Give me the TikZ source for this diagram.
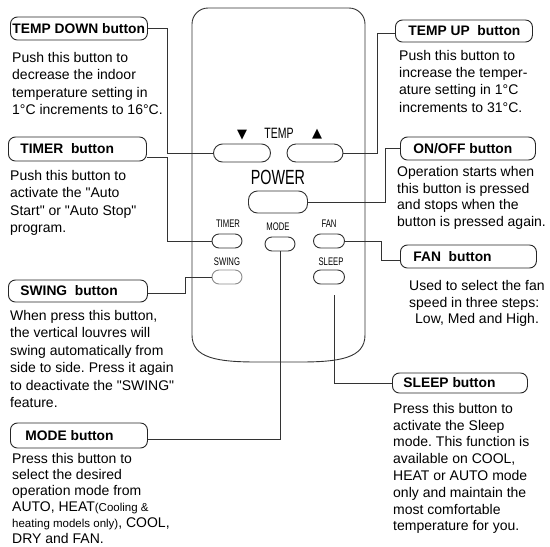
\documentclass[tikz,border=0pt]{standalone}
\usepackage{fontspec}
\setmainfont{Liberation Sans}
\newfontfamily\narrowfont[FakeStretch=0.7]{Liberation Sans}
\newfontfamily\symfont{DejaVu Sans}
\newcommand{\dq}{\textquotedbl}
\begin{document}
\frenchspacing
\begin{tikzpicture}[x=1pt,y=-1pt]
\tikzset{
 ln/.style={draw=black!80, line width=0.9pt},
 lbox/.style={draw=black!85, line width=0.9pt, rounded corners=7pt, inner sep=0pt, anchor=west, font=\fontsize{13.8}{16}\selectfont\bfseries},
 body/.style={anchor=north west, inner sep=0pt, align=left, font=\fontsize{14}{17.5}\selectfont},
 btn/.style={draw=black!80, line width=0.9pt, rectangle, inner sep=0pt},
 rlab/.style={inner sep=0pt, font=\narrowfont\fontsize{11}{12}\selectfont},
}
\useasboundingbox (0,0) rectangle (550,547);
\fill[white] (0,0) rectangle (550,547);
% remote body
\draw[ln] (192,335) -- (192,24) .. controls (192,15.2) and (199.2,8) .. (208,8) -- (349,8)
  .. controls (357.8,8) and (365,15.2) .. (365,24) -- (365,335)
  .. controls (365,358) and (340,362) .. (300,362) -- (257,362)
  .. controls (217,362) and (192,358) .. (192,335) -- cycle;
% remote labels
\node[inner sep=0pt, font=\symfont\fontsize{13}{14}\selectfont] (dnarrow) at (242,135) {▼};
\node[inner sep=0pt, font=\narrowfont\fontsize{15}{16}\selectfont] (templab) at (279,133) {TEMP};
\node[inner sep=0pt, font=\symfont\fontsize{13}{14}\selectfont] (uparrow) at (317,134) {▲};
\node[inner sep=0pt, font=\narrowfont\fontsize{20.5}{22}\selectfont] (powlab) at (278,177) {POWER};
\node[rlab] (timerlab) at (228,224) {TIMER};
\node[rlab] (modelab) at (278,227) {MODE};
\node[rlab] (fanlab) at (329,224) {FAN};
\node[rlab] (swinglab) at (227,262) {SWING};
\node[rlab] (sleeplab) at (331,262) {SLEEP};
% buttons
\node[btn, minimum width=57pt, minimum height=18pt, rounded corners=9pt] (tdn) at (242,153) {};
\node[btn, minimum width=56pt, minimum height=18pt, rounded corners=9pt] (tup) at (315,153) {};
\node[btn, minimum width=59pt, minimum height=22pt, rounded corners=9pt] (power) at (278,202) {};
\node[btn, minimum width=30pt, minimum height=14pt, rounded corners=7pt] (timer) at (227,241) {};
\node[btn, minimum width=30pt, minimum height=14pt, rounded corners=7pt] (mode) at (280,244) {};
\node[btn, minimum width=31pt, minimum height=14pt, rounded corners=7pt] (fan) at (329,241) {};
\node[btn, draw=black!45, minimum width=30pt, minimum height=14pt, rounded corners=7pt] (swing) at (227,277) {};
\node[btn, minimum width=31pt, minimum height=14pt, rounded corners=7pt] (sleep) at (329,277) {};
% label boxes
\node[lbox, minimum height=23pt] (tdbox) at (10,28.5) {\makebox[137pt][l]{\hspace{2pt}TEMP DOWN button}};
\node[lbox, minimum height=24pt] (timerbox) at (8,149) {\makebox[138pt][l]{\hspace{12pt}TIMER\ \ button}};
\node[lbox, minimum height=22pt] (swingbox) at (8,291) {\makebox[139pt][l]{\hspace{12pt}SWING\ \ button}};
\node[lbox, minimum height=25pt] (modebox) at (10,435.5) {\makebox[137pt][l]{\hspace{15pt}MODE button}};
\node[lbox, minimum height=22pt] (tupbox) at (395,31) {\makebox[137pt][l]{\hspace{13pt}TEMP UP\ \ button}};
\node[lbox, minimum height=23pt] (onoffbox) at (400,148.5) {\makebox[135pt][l]{\hspace{13pt}ON/OFF button}};
\node[lbox, minimum height=23pt] (fanbox) at (400,256.5) {\makebox[136pt][l]{\hspace{13pt}FAN\ \ button}};
\node[lbox, minimum height=20pt] (sleepbox) at (392,383) {\makebox[135pt][l]{\hspace{11pt}SLEEP button}};
% body texts
\node[body] (tdtext) at (12,52) {Push this button to\\decrease the indoor\\temperature setting in\\1°C increments to 16°C.};
\node[body] (timertext) at (10,170) {Push this button to\\activate the \dq Auto\\Start\dq\ or \dq Auto Stop\dq\\program.};
\node[body] (swingtext) at (10,310) {When press this button,\\the vertical louvres will\\swing automatically from\\side to side. Press it again\\to deactivate the \dq SWING\dq\\feature.};
\node[body, font=\fontsize{14}{16}\selectfont] (modetext) at (12,453) {Press this button to\\select the desired\\operation mode from\\AUTO, HEAT{\fontsize{11.5}{14}\selectfont(Cooling \&}\\{\fontsize{11.5}{14}\selectfont heating models only)}, COOL,\\DRY and FAN.};
\node[body, font=\fontsize{14}{17.3}\selectfont] (tuptext) at (399,50) {Push this button to\\increase the temper-\\ature setting in 1°C\\increments to 31°C.};
\node[body, font=\fontsize{14}{16.8}\selectfont] (onofftext) at (397,166) {Operation starts when\\this button is pressed\\and stops when the\\button is pressed again.};
\node[body, font=\fontsize{14}{16.8}\selectfont] (fantext) at (409,280) {Used to select the fan\\speed in three steps:\\\hspace*{6pt}Low, Med and High.};
\node[body, font=\fontsize{14}{16.8}\selectfont] (sleeptext) at (393,403) {Press this button to\\activate the Sleep\\mode. This function is\\available on COOL,\\HEAT or AUTO mode\\only and maintain the\\most comfortable\\temperature for you.};
% connectors
\draw[ln] (tdbox.east) -- ++(20,0) |- (tdn.west);
\draw[ln] ([yshift=-8pt]timerbox.east) -- ++(21,0) |- (timer.west);
\draw[ln] ([yshift=-2pt]swingbox.east) -- ++(38,0) |- (swing.west);
\draw[ln] ([yshift=-3.5pt]modebox.east) -| (mode.south);
\draw[ln] ([yshift=-2pt]tupbox.west) -- ++(-18,0) |- (tup.east);
\draw[ln] (onoffbox.west) -- ++(-15,0) |- (power.east);
\draw[ln] ([yshift=-3.5pt]fanbox.west) -- ++(-19,0) |- (fan.east);
\coordinate (slp) at (334,295);
\draw[ln] (slp) |- (sleepbox.west);
\end{tikzpicture}
\end{document}
